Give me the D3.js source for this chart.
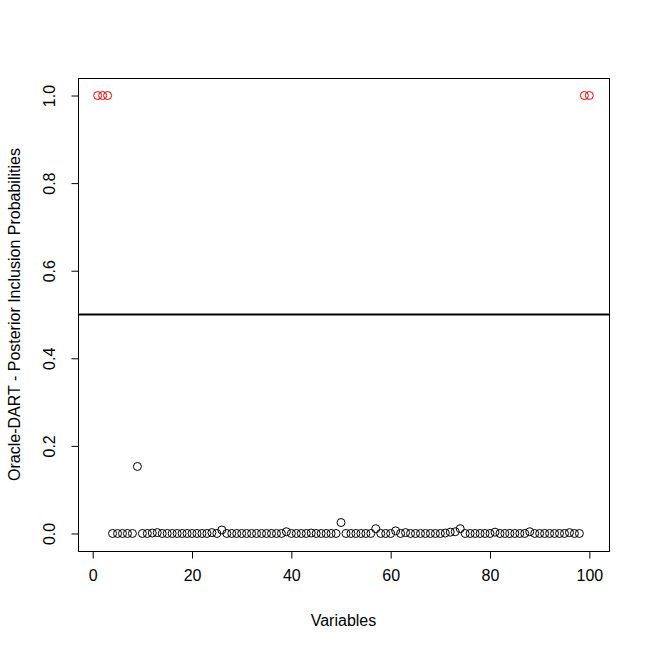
<!DOCTYPE html>
<html>
<head>
<meta charset="utf-8">
<script src="https://cdn.jsdelivr.net/npm/d3@7"></script>
<style>
  body { margin: 0; background: #fff; }
  svg { display: block; }
  text { font-family: "Liberation Sans", Arial, sans-serif; }
</style>
</head>
<body>
<svg id="chart" width="650" height="650"></svg>
<script>
// Variable index 1..100 and posterior inclusion probabilities
const variables = d3.range(1, 101);
const probabilities = [
  1.000, 1.000, 1.000, 0.000, 0.000, 0.000, 0.000, 0.000, 0.153, 0.000,
  0.000, 0.001, 0.002, 0.000, 0.000, 0.000, 0.000, 0.000, 0.000, 0.000,
  0.000, 0.000, 0.000, 0.002, 0.000, 0.008, 0.000, 0.000, 0.000, 0.000,
  0.000, 0.000, 0.000, 0.000, 0.000, 0.000, 0.000, 0.000, 0.004, 0.000,
  0.000, 0.000, 0.000, 0.001, 0.000, 0.000, 0.000, 0.000, 0.000, 0.025,
  0.000, 0.000, 0.000, 0.000, 0.000, 0.000, 0.011, 0.000, 0.000, 0.000,
  0.006, 0.000, 0.002, 0.000, 0.000, 0.000, 0.000, 0.000, 0.000, 0.000,
  0.001, 0.003, 0.004, 0.011, 0.000, 0.000, 0.000, 0.000, 0.000, 0.000,
  0.003, 0.000, 0.000, 0.000, 0.000, 0.000, 0.000, 0.004, 0.000, 0.000,
  0.000, 0.000, 0.000, 0.000, 0.000, 0.002, 0.000, 0.000, 1.000, 1.000
];
const selected = [1, 2, 3, 99, 100];
const xTicks = [0, 20, 40, 60, 80, 100];
const yTicks = [0.0, 0.2, 0.4, 0.6, 0.8, 1.0];
const threshold = 0.5;
const xLabel = "Variables";
const yLabel = "Oracle-DART - Posterior Inclusion Probabilities";

const svg = d3.select("#chart");
const L = 78, R = 609, T = 78, B = 551;

const xExt = (100 - 1) * 0.04;
const x = d3.scaleLinear().domain([1 - xExt, 100 + xExt]).range([L, R]);
const y = d3.scaleLinear().domain([-0.04, 1.04]).range([B, T]);

// points
svg.append("g").selectAll("circle")
  .data(variables.map((v, i) => ({ v, p: probabilities[i] })))
  .join("circle")
  .attr("cx", d => x(d.v))
  .attr("cy", d => y(d.p))
  .attr("r", 4)
  .attr("fill", "none")
  .attr("stroke", d => selected.includes(d.v) ? "#E00000" : "#000")
  .attr("stroke-width", 1);

// threshold line
svg.append("line")
  .attr("x1", L).attr("x2", R)
  .attr("y1", y(threshold)).attr("y2", y(threshold))
  .attr("stroke", "#000").attr("stroke-width", 2);

// box
svg.append("rect")
  .attr("x", L + 0.5).attr("y", T + 0.5)
  .attr("width", R - L).attr("height", B - T)
  .attr("fill", "none").attr("stroke", "#000").attr("stroke-width", 1);

// x axis
const xAxis = svg.append("g")
  .attr("transform", `translate(0,${B + 0.5})`)
  .call(d3.axisBottom(x).tickValues(xTicks).tickSize(7).tickSizeOuter(0).tickPadding(11).tickFormat(d3.format("d")));
xAxis.select(".domain").attr("d", `M${x(0)},0H${x(100)}`);
xAxis.selectAll("text").attr("font-size", 16).attr("fill", "#000")
  .attr("font-family", "Liberation Sans, Arial, sans-serif");

// y axis
const yAxis = svg.append("g")
  .attr("transform", `translate(${L + 0.5},0)`)
  .call(d3.axisLeft(y).tickValues(yTicks).tickSize(7).tickSizeOuter(0).tickFormat(d3.format(".1f")));
yAxis.select(".domain").attr("d", `M0,${y(0)}V${y(1)}`);
yAxis.selectAll("text")
  .attr("font-size", 16).attr("fill", "#000")
  .attr("font-family", "Liberation Sans, Arial, sans-serif")
  .attr("x", 0).attr("y", 0).attr("dy", null)
  .attr("text-anchor", "middle")
  .attr("transform", "translate(-24,0) rotate(-90)");

// axis titles
svg.append("text")
  .attr("x", (L + R) / 2).attr("y", 626)
  .attr("text-anchor", "middle").attr("font-size", 16).attr("fill", "#000")
  .text(xLabel);
svg.append("text")
  .attr("transform", `translate(20,${(T + B) / 2}) rotate(-90)`)
  .attr("text-anchor", "middle").attr("font-size", 16).attr("fill", "#000")
  .text(yLabel);
</script>
</body>
</html>
